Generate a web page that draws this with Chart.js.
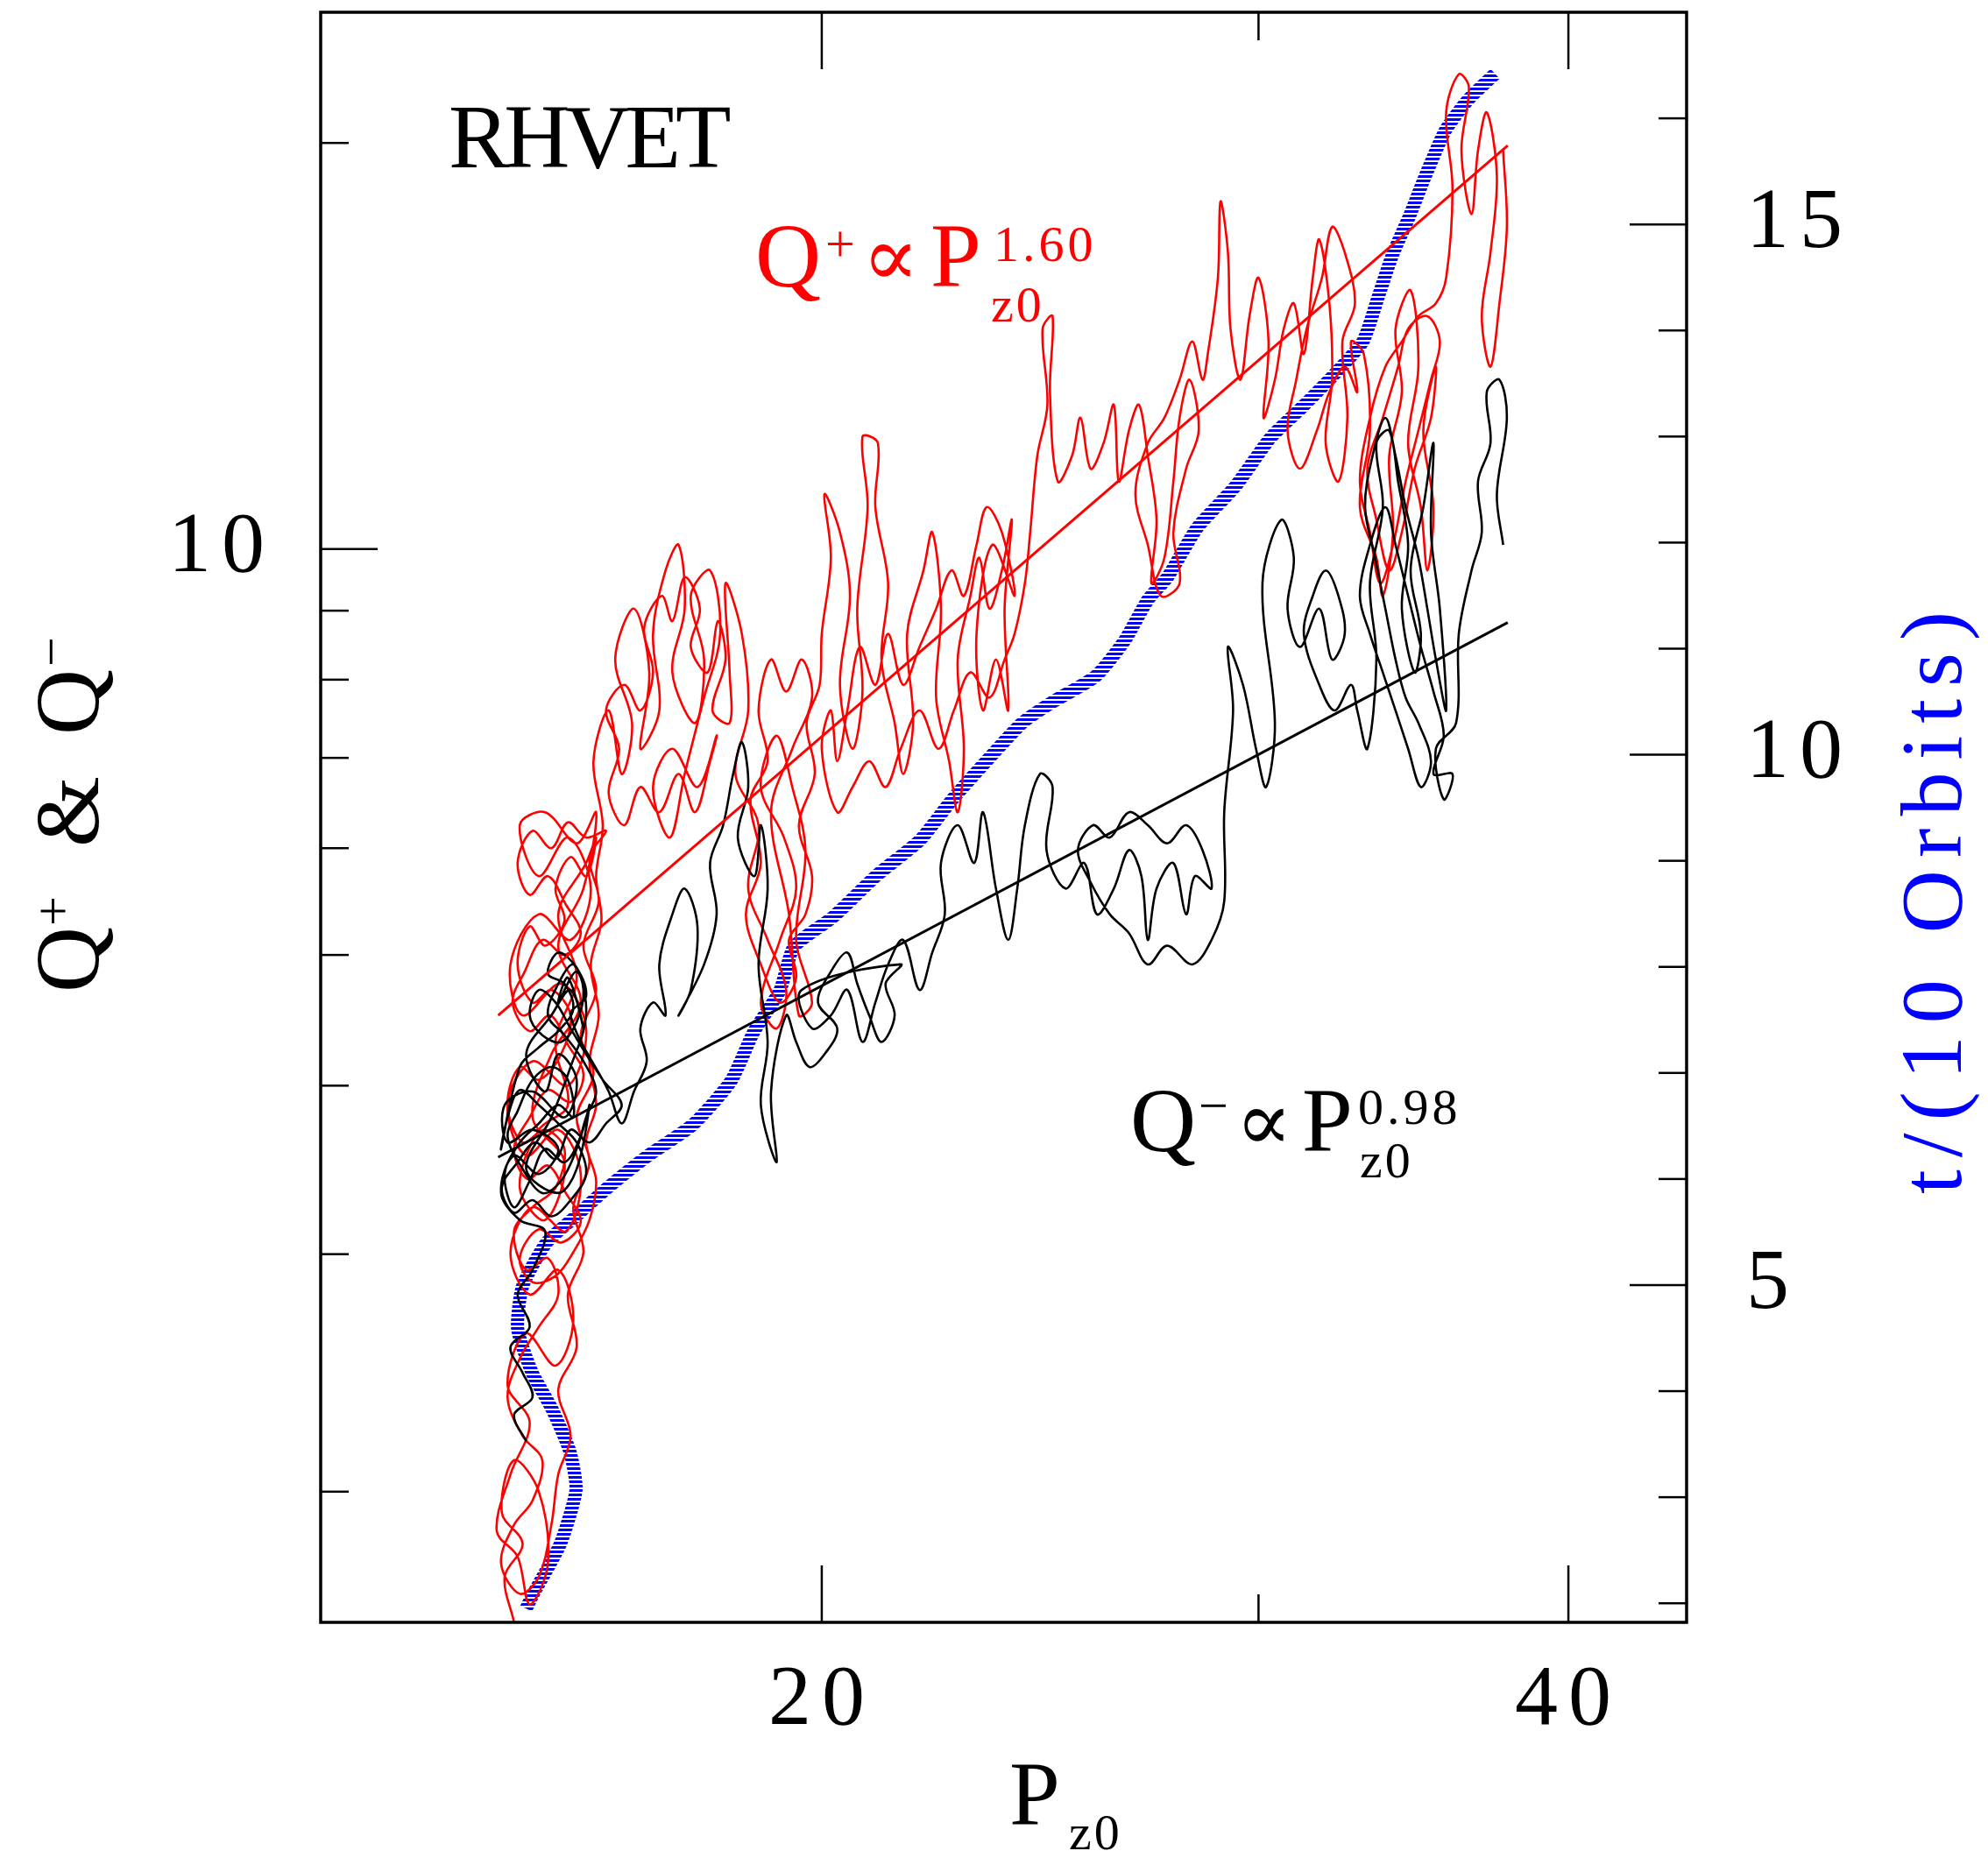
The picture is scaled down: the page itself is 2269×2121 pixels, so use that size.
<!DOCTYPE html>
<html>
<head>
<meta charset="utf-8">
<script src="https://cdn.jsdelivr.net/npm/chart.js@4.4.1/dist/chart.umd.min.js"></script>
<style>
  html, body { margin: 0; padding: 0; background: #fff; }
  #wrap { width: 2269px; height: 2121px; }
</style>
</head>
<body>
<div id="wrap"><canvas id="chart" width="2269" height="2121"></canvas></div>
<script>
/* ---- Data ---- */
// Q+ trajectory (red): P_z0 and Q+
var plusP = [15.03, 14.90, 15.15, 14.86, 15.03, 15.38, 15.51, 15.25, 15.08, 14.79,
  14.98, 15.25, 14.94, 15.20, 15.62, 15.88, 15.66, 15.25, 14.98, 15.29,
  15.77, 15.99, 15.66, 15.20, 14.94, 15.29, 15.80, 16.07, 15.70, 15.15,
  14.98, 15.38, 15.84, 16.14, 15.80, 15.38, 15.11, 15.47, 15.93, 16.22,
  16.03, 15.66, 15.99, 15.56, 15.29, 15.75, 15.47, 15.11, 15.38, 15.80,
  15.62, 15.93, 15.66, 16.07,
  16.22, 16.07, 15.84, 15.62, 15.75, 15.47, 15.25, 15.08, 15.29, 15.56,
  15.84, 15.70, 15.38, 15.11, 14.94, 15.15, 15.47, 15.75, 15.62, 15.29,
  15.03, 15.20, 15.51, 15.66, 15.38, 15.11, 14.94, 15.15, 15.43, 15.29,
  15.03, 14.85, 15.11, 15.38, 15.56, 15.66, 15.84, 15.66, 15.93, 15.80,
  16.03, 15.88, 16.12, 15.93, 16.18, 15.99, 16.22, 16.03, 16.26, 16.12, 16.37,
  16.07, 15.80, 15.56, 15.29, 15.08, 15.25, 15.51, 15.77, 15.99, 15.75,
  15.43, 15.18, 15.01, 15.25, 15.54, 15.80, 16.03, 15.84, 15.51, 15.25,
  15.03, 15.22, 15.51, 15.77, 15.99, 15.70, 15.38, 15.11, 15.29, 15.62,
  15.88, 16.12, 16.22, 16.07, 16.22, 16.12, 16.26, 16.14, 16.30, 16.22,
  16.32, 16.18, 16.41, 16.61, 16.77, 16.51,
  16.80, 17.04, 16.90, 17.20, 17.10, 17.30, 17.51, 17.61, 17.41, 17.78,
  17.93, 17.71, 18.03, 18.20, 17.93, 17.61, 17.37, 17.10, 17.41, 17.82,
  18.14,
  18.03, 17.78, 17.51, 17.20, 16.90, 16.65, 16.41, 16.57, 16.37, 16.65,
  16.90, 17.10, 16.96, 17.24, 17.41, 17.61, 17.86, 17.71, 17.99, 18.16,
  18.29, 18.07, 18.36,
  18.36, 18.29, 18.57, 18.68, 18.46, 18.86, 18.68, 19.02, 19.35,
  19.18, 18.90, 19.24, 19.53, 19.31, 18.90, 19.18, 19.46, 19.70, 19.53,
  19.82, 19.58, 19.40, 19.08, 19.46, 19.82,
  19.63, 19.35, 19.08, 18.86, 19.02, 18.72, 18.90, 18.64, 18.90, 19.24,
  19.53, 19.40, 19.70, 19.82, 19.58, 19.87, 19.72, 19.96,
  20.00, 20.17, 20.05, 20.34,
  20.53, 20.34, 20.58, 20.77, 20.67, 20.87, 20.77, 21.07, 21.02, 21.27,
  21.14, 21.40, 21.57, 21.77, 21.65, 21.98, 22.16, 22.34, 22.24, 22.51,
  22.69, 22.82, 22.69, 22.96, 23.15, 23.37, 23.64, 23.86, 23.70, 23.78,
  23.51, 23.23, 23.09, 23.43, 23.92,
  23.64, 23.31, 23.09, 22.82, 22.56, 22.24, 21.90, 21.57, 21.27, 21.02,
  20.72, 20.48, 20.29, 20.17, 20.00, 20.29, 20.58, 20.90, 21.22, 21.52,
  21.90, 22.29, 22.61, 22.96, 23.37, 23.70, 23.92, 24.15,
  24.27, 24.43, 24.66, 24.55, 24.78,
  24.72, 24.90, 25.23, 25.43, 25.67, 25.98, 26.23, 26.35, 26.60, 26.85,
  27.07, 27.29, 27.16, 27.49, 27.72, 27.88, 28.14, 28.38,
  28.05, 27.72, 27.88, 27.40, 27.07, 26.76, 27.07, 27.49, 27.88, 28.21, 28.48,
  28.62, 28.89,
  28.96, 29.16, 29.23, 29.50, 29.75, 30.00, 30.28, 30.14, 30.46, 30.71,
  31.00, 31.29, 31.55, 31.74, 32.04, 32.12, 31.93, 32.31, 32.58, 32.43,
  32.81,
  32.50, 32.12, 31.82, 31.37, 31.07, 30.82, 31.18, 31.67, 32.04, 32.50,
  32.88, 32.69,
  33.08, 33.27, 32.96, 33.47, 33.67, 33.99, 33.87, 34.27, 34.07,
  34.55, 34.80, 34.47, 34.88, 35.09, 35.29, 34.96, 35.37,
  35.21, 34.68, 34.27, 33.87, 33.47, 33.19, 33.67, 34.15, 34.47, 35.09, 35.50,
  35.21, 34.80, 34.39, 33.99, 33.59, 33.27, 32.96, 33.27, 33.75, 34.27,
  34.80, 35.37,
  35.71, 35.92,
  35.71, 36.13, 36.47, 36.22, 36.56, 36.78, 37.08, 37.43, 37.21, 36.91,
  37.21, 37.52, 37.78, 37.65];
var plusQ = [1.60, 1.73, 1.83, 1.93, 2.11, 2.00, 1.77, 1.65, 1.79, 1.87,
  2.06, 2.25, 2.40, 2.62, 2.48, 2.68, 2.92, 2.80, 3.01, 3.25,
  3.12, 3.44, 3.71, 3.55, 3.87, 4.17, 4.00, 4.41, 4.76, 4.51,
  4.92, 5.36, 5.13, 5.60, 6.11, 5.72, 6.24, 6.38, 6.05, 6.38,
  5.60, 5.08, 4.61, 4.22, 3.79, 3.51, 3.18, 3.36, 3.71, 3.87,
  4.31, 4.81, 5.36, 5.85,
  6.11, 5.72, 5.91, 5.60, 5.30, 5.08, 5.25, 4.92, 4.61, 4.71,
  4.51, 4.22, 4.04, 4.13, 3.87, 3.63, 3.71, 3.59, 3.36, 3.25,
  3.12, 2.92, 2.98, 2.80, 2.65, 2.51, 2.35, 2.20, 2.11, 1.97,
  1.89, 1.77, 1.68, 1.73, 1.89, 2.06, 2.20, 2.38, 2.56, 2.80,
  3.01, 3.25, 3.51, 3.79, 4.08, 4.36, 4.71, 5.08, 5.48, 5.91, 6.18,
  6.11, 6.27, 6.00, 6.18, 5.85, 5.54, 5.72, 5.45, 5.19, 5.00,
  5.13, 4.86, 4.61, 4.39, 4.51, 4.29, 4.08, 3.89, 3.97, 3.79,
  3.59, 3.41, 3.49, 3.33, 3.17, 3.06, 3.13, 2.98, 2.86, 2.89,
  3.01, 3.18, 3.40, 3.63, 3.87, 4.17, 4.51, 4.92, 5.30, 5.72,
  6.24, 6.96, 7.59, 6.81, 7.43, 8.28,
  9.03, 8.10, 7.11, 7.59, 8.65, 9.64, 10.07, 9.03, 8.10, 7.43,
  8.28, 9.23, 9.64, 8.65, 7.76, 6.81, 6.11, 6.66, 7.11, 6.66,
  7.27,
  6.96, 6.38, 6.81, 6.38, 6.66, 6.24, 6.59, 7.11, 7.59, 7.93,
  7.59, 8.10, 8.74, 9.23, 8.84, 9.53, 9.03, 8.46, 8.10, 8.84,
  8.28, 7.59, 7.43,
  8.10, 9.43, 8.65, 7.59, 6.81, 6.24, 5.60, 5.13, 4.71,
  4.41, 4.61, 5.13, 5.60, 6.11, 6.66, 7.27, 6.66, 5.98, 5.13,
  4.61, 4.51, 5.36, 6.38, 7.11, 7.76,
  8.28, 7.84, 8.28, 7.59, 6.96, 6.52, 5.85, 5.36, 4.92, 4.61,
  4.81, 5.13, 5.36, 5.72, 6.24, 6.81, 7.43, 7.93,
  8.65, 9.85, 10.98, 10.29,
  9.23, 7.93, 7.11, 7.84, 9.03, 10.74, 12.11, 11.98, 10.74, 9.43,
  8.28, 7.43, 6.81, 7.43, 8.65, 9.64, 10.29, 9.03, 7.76, 6.96,
  6.38, 7.11, 8.28, 9.23, 9.85, 9.03, 9.64, 10.51, 9.03, 7.59,
  8.28, 7.59, 8.65, 10.07, 9.23,
  10.29, 10.74, 10.07, 9.23, 9.64, 9.03, 8.46, 7.93, 8.65, 7.93,
  8.46, 7.59, 6.96, 7.59, 7.11, 6.38, 6.66, 6.96, 6.66, 7.11,
  7.59, 7.11, 7.59, 8.10, 7.76, 8.28, 8.65, 9.43,
  10.29, 11.72, 12.79, 14.56, 14.88,
  13.07, 11.22, 11.72, 12.51, 11.47, 11.98, 12.79, 11.22, 12.24, 12.79,
  11.72, 10.51, 9.43, 9.85, 11.22, 12.51, 13.35, 12.24,
  11.47, 10.29, 9.43, 9.23, 10.07, 10.98, 11.98, 12.51, 13.35, 14.25, 13.35,
  13.95, 15.89,
  18.10, 16.59, 14.56, 13.35, 14.88, 15.89, 14.25, 12.51, 13.35, 14.56,
  15.21, 13.95, 15.89, 16.96, 15.21, 13.35, 11.98, 11.22, 12.51, 14.25,
  15.21,
  16.59, 17.33, 15.89, 14.56, 13.35, 12.24, 11.47, 12.24, 13.07, 13.65,
  13.07, 14.25,
  13.95, 12.24, 10.74, 9.85, 9.23, 10.29, 11.72, 13.07, 14.56,
  15.55, 13.65, 11.98, 10.74, 9.64, 10.74, 12.24, 13.65,
  12.51, 11.47, 10.29, 9.64, 10.51, 11.47, 12.51, 13.65, 14.56, 14.88, 14.25,
  13.35, 12.24, 11.22, 10.07, 9.43, 10.29, 11.22, 12.51, 13.65, 14.25,
  14.88, 15.21,
  15.89, 18.50,
  21.07, 22.49, 22.00, 19.74, 17.71, 19.74, 21.07, 18.90, 16.59, 14.88,
  13.65, 15.21, 17.33, 19.74];

// Q- trajectory (black): P_z0 and Q-
var minusP = [15.20, 15.03, 15.29, 15.15, 14.98, 15.25, 15.08, 15.29, 15.47, 15.11,
  14.85, 15.03, 15.38, 15.66, 15.29, 14.94, 14.90, 15.29, 15.75, 15.93,
  15.66, 15.47, 15.20, 15.56, 15.84, 16.03, 15.80, 15.66, 15.93, 16.07,
  15.84, 15.56, 15.20, 15.66, 15.93, 16.12,
  15.99, 15.75, 15.47, 15.25, 15.03, 14.90, 15.11, 15.38, 15.66, 15.88,
  15.80, 15.56, 15.29, 15.08, 14.94, 15.15, 15.43, 15.70, 15.93, 16.07,
  16.22, 16.03, 15.75, 15.51, 15.66, 15.88, 16.03, 15.93, 15.70, 15.43,
  15.25, 15.38, 15.62, 15.84, 16.07, 16.32, 16.61,
  16.37, 16.12, 15.84, 15.62, 15.33, 15.08, 14.86, 15.03, 15.29, 15.56,
  15.84, 16.07, 15.93, 15.66, 15.38, 15.11, 14.94, 14.85, 15.11, 15.38,
  15.66, 15.88, 15.75, 15.51, 15.66, 15.93, 16.07, 15.84,
  16.41, 16.61, 16.80, 17.00,
  16.90, 17.10, 17.30, 17.20, 17.41, 17.61, 17.82, 17.71, 17.51, 17.93,
  18.14, 18.03, 18.25, 18.42, 18.57, 18.68, 18.50, 18.79, 18.90, 19.02,
  18.86, 19.02, 18.90, 19.18, 19.08, 19.35,
  19.53, 19.77, 20.05, 20.29, 19.93, 20.17, 20.48, 20.67, 20.90, 21.14,
  21.40, 21.22, 21.52,
  19.63, 19.82, 20.17, 20.48,
  20.77, 21.02, 21.27, 21.57, 21.90, 22.16, 22.42, 22.34, 22.69, 23.04,
  23.23, 23.51, 23.78, 23.98, 24.15, 24.49, 24.78, 24.64, 25.08, 25.52,
  25.82, 26.23, 26.60, 26.91, 27.07, 27.29, 27.72, 28.05, 28.28, 28.72,
  28.48, 28.05, 27.56, 27.07, 26.60, 26.13, 25.73, 25.37, 25.67, 26.13,
  26.60, 27.07, 27.56, 28.21, 28.72, 29.06,
  29.06, 29.30, 29.16, 29.57, 29.93, 30.21, 30.46, 30.11, 30.64, 31.00,
  30.82, 31.18, 31.74, 32.12, 32.50,
  32.31, 31.93, 31.55, 31.29, 31.74, 32.20, 32.69,
  32.88, 33.19, 33.47, 33.27, 33.67,
  33.47, 33.87, 34.15, 34.47, 34.27, 34.68, 34.88, 34.55, 34.96, 35.29,
  35.21, 35.50, 35.71,
  35.37, 35.09, 34.80, 34.39, 34.07, 33.75, 33.35, 33.12, 33.43, 33.75,
  34.07, 34.39, 34.80, 35.21,
  34.88, 34.47, 34.07, 33.67, 33.27, 32.96, 33.27, 33.75, 34.07, 34.47,
  34.88, 35.29, 35.63, 35.29,
  35.92, 35.63, 35.37, 36.04, 36.13, 36.56, 36.91,
  36.78, 37.21, 37.08, 37.52, 37.78, 37.43, 37.65];
var minusQ = [2.18, 2.28, 2.35, 2.45, 2.56, 2.65, 2.80, 2.92, 3.12, 3.18,
  3.33, 3.55, 3.44, 3.59, 3.71, 3.63, 3.87, 3.96, 3.79, 4.04,
  4.22, 3.96, 4.22, 4.51, 4.71, 4.41, 4.81, 4.61, 4.86, 4.51,
  4.13, 3.79, 3.47, 3.33, 3.47, 3.87,
  3.67, 3.51, 3.59, 3.40, 3.25, 3.44, 3.63, 3.75, 3.87, 3.79,
  4.04, 4.13, 4.04, 3.83, 3.67, 3.47, 3.33, 3.40, 3.59, 3.79,
  3.96, 4.17, 4.36, 4.51, 4.76, 4.92, 4.71, 4.46, 4.31, 4.36,
  4.51, 4.71, 4.61, 4.41, 4.22, 4.04, 3.87,
  3.75, 3.63, 3.71, 3.53, 3.63, 3.51, 3.36, 3.22, 3.29, 3.20,
  3.29, 3.44, 3.63, 3.75, 3.87, 3.97, 3.79, 3.59, 4.13, 4.27,
  4.39, 4.56, 4.76, 4.84, 5.02, 4.89, 4.66, 4.51,
  3.96, 3.75, 3.96, 4.17,
  4.41, 4.61, 4.51, 4.92, 5.36, 5.60, 5.25, 4.71, 4.51, 4.92,
  5.36, 5.85, 6.24, 6.81, 7.19, 6.66, 6.11, 5.72, 6.24, 5.60,
  4.92, 4.31, 3.87, 3.51, 3.96, 4.51,
  4.31, 4.13, 4.22, 4.41, 4.61, 4.86, 5.02, 4.76, 4.51, 4.31,
  4.51, 4.76, 4.92,
  4.71, 4.41, 4.51, 4.71,
  4.31, 4.61, 4.92, 5.13, 4.71, 5.02, 5.36, 5.85, 6.24, 5.85,
  6.38, 5.60, 5.13, 5.60, 6.24, 6.81, 6.66, 5.98, 5.60, 5.85,
  5.36, 5.60, 5.98, 5.72, 5.13, 5.60, 5.85, 5.36, 5.72, 5.60,
  5.98, 6.24, 6.05, 6.24, 6.38, 6.11, 6.24, 5.98, 5.66, 5.36,
  5.19, 4.92, 5.08, 4.92, 5.13, 5.48,
  6.38, 7.59, 8.46, 7.93, 7.11, 6.66, 7.43, 9.43, 10.51, 9.85,
  9.03, 8.46, 9.03, 8.28, 8.65,
  9.23, 9.64, 9.23, 8.65, 7.93, 7.59, 7.93,
  7.59, 7.11, 8.28, 9.43, 10.74,
  11.98, 12.24, 11.22, 10.07, 9.03, 8.10, 8.65, 9.64, 10.74, 11.98,
  10.29, 9.03, 7.59,
  8.28, 9.03, 9.85, 10.74, 11.72, 12.51, 11.72, 10.74, 9.85, 9.03,
  8.28, 7.76, 7.43, 6.96,
  6.66, 7.11, 7.59, 8.10, 8.65, 9.23, 10.07, 10.74, 10.07, 9.23,
  8.46, 7.84, 7.27, 6.81,
  6.81, 6.52, 7.11, 7.43, 8.65, 9.64, 10.29,
  11.22, 11.98, 13.07, 13.35, 12.51, 10.98, 10.07];

// elapsed time (blue, right axis): P_z0 and t/(10 orbits)
var timeP = [15.20, 15.31, 15.69, 15.92, 15.83, 15.57, 15.28, 15.08, 15.15, 15.49, 15.92,
  16.36, 17.02, 17.74, 18.38, 18.77, 19.24, 19.49, 20.21, 21.04, 21.92,
  22.58, 23.45, 24.09, 24.75, 25.79, 26.50, 27.07, 27.58, 28.34, 29.36,
  30.34, 31.25, 32.29, 33.06, 33.53, 33.97, 34.53, 35.03, 35.69, 36.46, 37.37];
var timeT = [1.95, 2.10, 2.56, 3.07, 3.43, 3.83, 4.18, 4.59, 4.99, 5.40, 5.65,
  5.90, 6.22, 6.51, 6.92, 7.38, 7.78, 8.19, 8.47, 8.86, 9.20,
  9.58, 10.01, 10.30, 10.49, 10.74, 11.08, 11.46, 11.68, 12.14, 12.53,
  12.99, 13.28, 13.62, 13.90, 14.32, 14.71, 15.09, 15.46, 15.89, 16.18, 16.42];

// power-law fits (end points)
var fitPlusP = [14.81, 37.81];
var fitPlusQ = [4.51, 19.91];
var fitMinusP = [14.81, 37.81];
var fitMinusQ = [3.54, 8.82];

// axis ticks
var xMajorTicks = [20, 40];
var xMinorTicks = [30];
var qMajorTicks = [10];
var qMinorTicks = [2, 3, 4, 5, 6, 7, 8, 9, 20];
var tMajorTicks = [5, 10, 15];
var tMinorTicks = [2, 3, 4, 6, 7, 8, 9, 11, 12, 13, 14, 16];

var SERIF = '"Liberation Serif", "Times New Roman", serif';

function pairs(xs, ys) {
  return xs.map(function (x, i) { return { x: x, y: ys[i] }; });
}

/* horizontal hatching for the wiggly time curve */
function stripes(color) {
  var c = document.createElement('canvas');
  c.width = 8; c.height = 5;
  var g = c.getContext('2d');
  g.fillStyle = color;
  g.fillRect(0, 0, 8, 3);
  return g.createPattern(c, 'repeat');
}

function txt(ctx, s, x, y, size, color, spacing, family) {
  ctx.font = size + 'px ' + (family || SERIF);
  ctx.fillStyle = color;
  ctx.letterSpacing = (spacing || 0) + 'px';
  ctx.textAlign = 'left';
  ctx.textBaseline = 'alphabetic';
  ctx.fillText(s, x, y);
}

/* ---- Frame, inward ticks and annotations ---- */
var frameAndText = {
  id: 'frameAndText',
  beforeDraw: function (chart) {
    chart.ctx.letterSpacing = '12px';
  },
  afterDraw: function (chart) {
    var ctx = chart.ctx, a = chart.chartArea;
    var sx = chart.scales.x, sq = chart.scales.y, st = chart.scales.t;
    ctx.save();
    ctx.letterSpacing = '0px';
    ctx.strokeStyle = '#000';
    ctx.lineWidth = 2.5;

    function xTicks(vals, len) {
      vals.forEach(function (v) {
        var px = sx.getPixelForValue(v);
        ctx.beginPath();
        ctx.moveTo(px, a.bottom); ctx.lineTo(px, a.bottom - len);
        ctx.moveTo(px, a.top); ctx.lineTo(px, a.top + len);
        ctx.stroke();
      });
    }
    function yTicks(scale, vals, len, fromRight) {
      vals.forEach(function (v) {
        var py = scale.getPixelForValue(v);
        ctx.beginPath();
        if (fromRight) { ctx.moveTo(a.right, py); ctx.lineTo(a.right - len, py); }
        else { ctx.moveTo(a.left, py); ctx.lineTo(a.left + len, py); }
        ctx.stroke();
      });
    }
    xTicks(xMajorTicks, 65);
    xTicks(xMinorTicks, 32);
    yTicks(sq, qMajorTicks, 65, false);
    yTicks(sq, qMinorTicks, 32, false);
    yTicks(st, tMajorTicks, 65, true);
    yTicks(st, tMinorTicks, 32, true);

    ctx.lineWidth = 3.5;
    ctx.strokeRect(a.left, a.top, a.right - a.left, a.bottom - a.top);

    // title
    txt(ctx, 'RHVET', 512, 191, 104, '#000', -6);

    // Q+ fit label
    var red = '#ff0000';
    var sym = '"DejaVu Serif", serif';
    txt(ctx, 'Q', 862, 327, 104, red);
    txt(ctx, '+', 942, 298, 60, red);
    txt(ctx, '\u221D', 984, 326, 96, red, 0, sym);
    txt(ctx, 'P', 1062, 327, 104, red);
    txt(ctx, '1.60', 1134, 298, 58, red, 4);
    txt(ctx, 'z0', 1131, 367, 58, red, 3);

    // Q- fit label
    txt(ctx, 'Q', 1290, 1314, 104, '#000');
    txt(ctx, '\u2212', 1368, 1282, 60, '#000');
    txt(ctx, '\u221D', 1410, 1313, 96, '#000', 0, sym);
    txt(ctx, 'P', 1486, 1314, 104, '#000');
    txt(ctx, '0.98', 1550, 1283, 58, '#000', 4);
    txt(ctx, 'z0', 1552, 1344, 58, '#000', 3);

    // x title
    txt(ctx, 'P', 1152, 2083, 104, '#000');
    txt(ctx, 'z0', 1220, 2111, 58, '#000', 3);

    // left y title
    ctx.save();
    ctx.translate(112, 1133);
    ctx.rotate(-Math.PI / 2);
    txt(ctx, 'Q', 0, 0, 104, '#000');
    txt(ctx, '+', 76, -32, 60, '#000');
    txt(ctx, '&', 166, 0, 104, '#000');
    txt(ctx, 'Q', 294, 0, 104, '#000');
    txt(ctx, '\u2212', 372, -34, 60, '#000');
    ctx.restore();

    // right y title
    ctx.save();
    ctx.translate(2238, 1363);
    ctx.rotate(-Math.PI / 2);
    txt(ctx, 't/(10 Orbits)', 0, 0, 100, '#0000ff', 14);
    ctx.restore();

    ctx.restore();
  }
};

var tickFont = { family: SERIF, size: 98 };

new Chart(document.getElementById('chart'), {
  type: 'scatter',
  data: {
    datasets: [
      { label: 'Q+ fit', data: pairs(fitPlusP, fitPlusQ), showLine: true, borderColor: '#ff0000',
        borderWidth: 3, pointRadius: 0, yAxisID: 'y' },
      { label: 'Q- fit', data: pairs(fitMinusP, fitMinusQ), showLine: true, borderColor: '#000000',
        borderWidth: 3, pointRadius: 0, yAxisID: 'y' },
      { label: 'Q-', data: pairs(minusP, minusQ), showLine: true, borderColor: '#000000',
        borderWidth: 2.6, borderJoinStyle: 'round', tension: 0.35, pointRadius: 0, yAxisID: 'y' },
      { label: 'Q+', data: pairs(plusP, plusQ), showLine: true, borderColor: '#ff0000',
        borderWidth: 2.6, borderJoinStyle: 'round', tension: 0.35, pointRadius: 0, yAxisID: 'y' },
      { label: 't', data: pairs(timeP, timeT), showLine: true, borderColor: stripes('#0000ff'),
        borderWidth: 15, pointRadius: 0, tension: 0.2, yAxisID: 't' }
    ]
  },
  options: {
    responsive: false,
    animation: false,
    devicePixelRatio: 1,
    layout: { padding: { top: 14, left: 0, right: 0, bottom: 0 } },
    plugins: { legend: { display: false }, tooltip: { enabled: false } },
    scales: {
      x: {
        type: 'logarithmic', position: 'bottom', min: 12.56, max: 44.64,
        grid: { display: false, drawTicks: false }, border: { display: false },
        ticks: { padding: 31, font: tickFont, color: '#000', autoSkip: false, maxRotation: 0,
          callback: function (v) { return String(v); } },
        afterBuildTicks: function (s) { s.ticks = xMajorTicks.map(function (v) { return { value: v }; }); },
        afterFit: function (s) { s.height = 269; s.paddingLeft = 0; s.paddingRight = 0; }
      },
      y: {
        type: 'logarithmic', position: 'left', min: 1.6, max: 25,
        grid: { display: false, drawTicks: false }, border: { display: false },
        ticks: { padding: 52, font: tickFont, color: '#000', autoSkip: false,
          callback: function (v) { return String(v); } },
        afterBuildTicks: function (s) { s.ticks = qMajorTicks.map(function (v) { return { value: v }; }); },
        afterFit: function (s) { s.width = 366; s.paddingTop = 0; s.paddingBottom = 0; }
      },
      t: {
        type: 'linear', position: 'right', min: 1.82, max: 17,
        grid: { display: false, drawTicks: false }, border: { display: false },
        ticks: { padding: 68, font: tickFont, color: '#000', autoSkip: false,
          callback: function (v) { return String(v); } },
        afterBuildTicks: function (s) { s.ticks = tMajorTicks.map(function (v) { return { value: v }; }); },
        afterFit: function (s) { s.width = 344; s.paddingTop = 0; s.paddingBottom = 0; }
      }
    }
  },
  plugins: [frameAndText]
});
</script>
</body>
</html>
